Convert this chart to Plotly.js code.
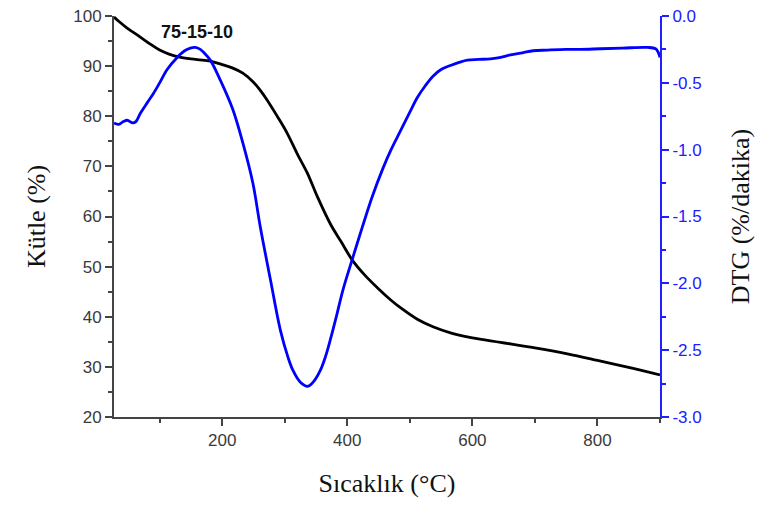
<!DOCTYPE html>
<html>
<head>
<meta charset="utf-8">
<script src="https://cdn.plot.ly/plotly-3.0.1.min.js"></script>
<style>html,body{margin:0;padding:0;background:#fff;}#chart{width:762px;height:510px;}</style>
</head>
<body>
<div id="chart"></div>
<script>
// Temperature (°C) for TGA curve
const tgaTemp = [27, 35, 48, 69, 85, 100, 115, 132, 160, 181, 200, 217, 233, 250, 260, 272, 288, 304, 320, 336, 352, 373, 390, 408, 428, 448, 470, 485, 512, 537, 565, 600, 645, 700, 752, 800, 857, 900];
// Mass (%)
const tgaMass = [99.8, 98.9, 97.6, 95.8, 94.4, 93.2, 92.4, 91.8, 91.3, 91.0, 90.3, 89.6, 88.6, 86.8, 85.3, 83.2, 80.0, 76.6, 72.5, 68.7, 64.0, 58.5, 55.0, 51.3, 48.3, 45.8, 43.3, 41.8, 39.5, 38.0, 36.8, 35.8, 34.9, 33.8, 32.6, 31.3, 29.7, 28.4];

// Temperature (°C) for DTG curve
const dtgTemp = [27, 35, 42, 48, 57, 62, 69, 80, 90, 100, 112, 128, 140, 149, 157, 165, 172, 181, 197, 217, 233, 249, 261, 277, 293, 305, 313, 325, 337, 347, 357, 365, 373, 383, 393, 408, 424, 440, 457, 470, 485, 500, 512, 525, 537, 550, 565, 580, 592, 610, 629, 645, 661, 680, 697, 720, 750, 773, 805, 840, 880, 893, 897, 900];
// DTG (%/dakika)
const dtgValue = [-0.80, -0.81, -0.79, -0.78, -0.80, -0.79, -0.73, -0.65, -0.58, -0.50, -0.40, -0.31, -0.26, -0.24, -0.235, -0.25, -0.28, -0.33, -0.48, -0.70, -0.95, -1.25, -1.58, -1.97, -2.35, -2.55, -2.65, -2.74, -2.77, -2.73, -2.65, -2.55, -2.42, -2.24, -2.05, -1.82, -1.58, -1.35, -1.14, -1.00, -0.86, -0.72, -0.61, -0.52, -0.45, -0.40, -0.37, -0.345, -0.33, -0.325, -0.32, -0.31, -0.29, -0.275, -0.26, -0.255, -0.25, -0.25, -0.245, -0.24, -0.235, -0.245, -0.27, -0.31];

// Right axis tick labels (hyphen minus as printed)
const dtgTickVals = [0, -0.5, -1, -1.5, -2, -2.5, -3];
const dtgTickText = ['0.0', '-0.5', '-1.0', '-1.5', '-2.0', '-2.5', '-3.0'];

const sampleLabel = "75-15-10";

const traces = [
  {x: tgaTemp, y: tgaMass, type: 'scatter', mode: 'lines', name: 'Kütle',
   line: {color: '#000000', width: 2.8, shape: 'spline', smoothing: 1}, xaxis: 'x', yaxis: 'y', showlegend: false},
  {x: dtgTemp, y: dtgValue, type: 'scatter', mode: 'lines', name: 'DTG',
   line: {color: '#0000ff', width: 2.8, shape: 'spline', smoothing: 1}, xaxis: 'x', yaxis: 'y2', showlegend: false}
];

const tickFont = {family: 'Liberation Sans, Arial, sans-serif', size: 17, color: '#3a3a3a'};
const titleFont = {family: 'Liberation Serif, Times New Roman, serif', size: 26, color: '#111111'};

const layout = {
  width: 762, height: 510,
  margin: {l: 114, r: 102, t: 16, b: 93},
  paper_bgcolor: '#ffffff', plot_bgcolor: '#ffffff',
  showlegend: false,
  title: {text: '<b>' + sampleLabel + '</b>', x: 0.152, xref: 'paper', xanchor: 'center',
          y: 0.961, yref: 'paper', yanchor: 'middle',
          font: {family: 'Liberation Sans, Arial, sans-serif', size: 18, color: '#111111'}},
  xaxis: {range: [27, 900], tick0: 0, dtick: 200, ticks: 'outside', ticklen: 7, tickwidth: 2,
          tickcolor: '#444444', showline: true, linewidth: 2, linecolor: '#444444',
          showgrid: false, zeroline: false, tickfont: tickFont,
          minor: {dtick: 100, tick0: 0, ticks: 'outside', ticklen: 4, tickwidth: 2, tickcolor: '#444444', showgrid: false},
          title: {text: 'Sıcaklık (°C)', font: titleFont, standoff: 24}},
  xaxis2: {range: [27, 900], overlaying: 'x', side: 'top', anchor: 'y', tick0: 0, dtick: 200,
           ticks: 'inside', ticklen: 7, tickwidth: 2, tickcolor: '#555555', showticklabels: false,
           showline: true, linewidth: 2, linecolor: '#777777', showgrid: false, zeroline: false,
           minor: {dtick: 100, tick0: 0, ticks: 'inside', ticklen: 4, tickwidth: 2, tickcolor: '#555555', showgrid: false}},
  yaxis: {range: [20, 100], dtick: 10, ticks: 'outside', ticklen: 7, tickwidth: 2,
          tickcolor: '#444444', showline: true, linewidth: 2, linecolor: '#444444',
          showgrid: false, zeroline: false, tickfont: tickFont,
          minor: {dtick: 5, ticks: 'outside', ticklen: 4, tickwidth: 2, tickcolor: '#444444', showgrid: false},
          title: {text: 'Kütle (%)', font: titleFont, standoff: 20}},
  yaxis2: {range: [-3, 0], tickmode: 'array', tickvals: dtgTickVals, ticktext: dtgTickText,
           overlaying: 'y', side: 'right', anchor: 'x',
           ticks: 'outside', ticklen: 7, tickwidth: 2, tickcolor: '#2020ff',
           showline: true, linewidth: 2, linecolor: '#2020ff', showgrid: false, zeroline: false,
           tickfont: {family: 'Liberation Sans, Arial, sans-serif', size: 17, color: '#2020ff'},
           minor: {dtick: 0.25, ticks: 'outside', ticklen: 4, tickwidth: 2, tickcolor: '#2020ff', showgrid: false},
           title: {text: 'DTG (%/dakika)', font: titleFont, standoff: 30}}
};

Plotly.newPlot('chart', traces, layout, {displayModeBar: false, responsive: false});
</script>
</body>
</html>
